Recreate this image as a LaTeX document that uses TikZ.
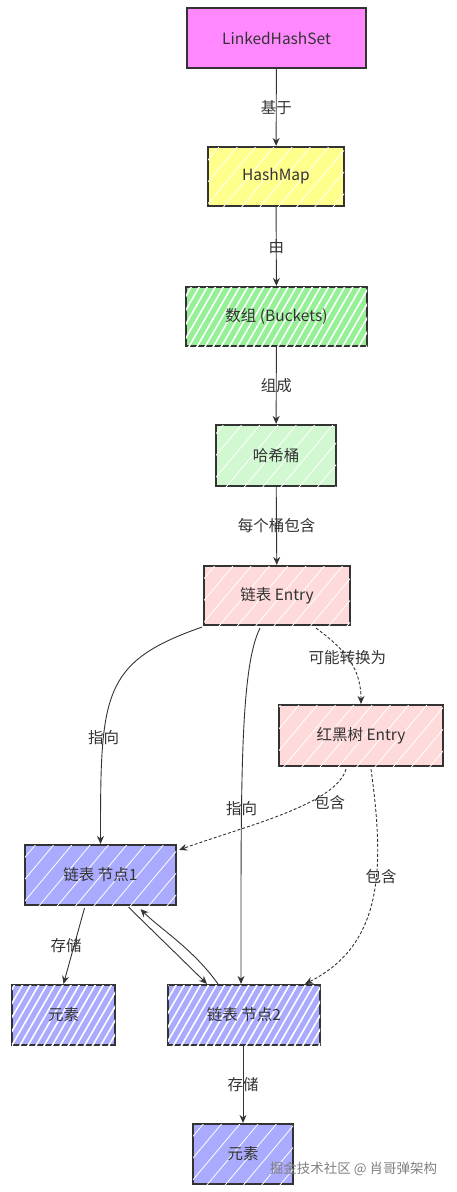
\documentclass[tikz,border=0pt]{standalone}
\usepackage{fontspec}
\setmainfont{Noto Sans CJK SC}
\usetikzlibrary{arrows.meta,patterns.meta}
\definecolor{cLHS}{HTML}{FF88FF}
\definecolor{cHM}{HTML}{FFFF8C}
\definecolor{cBK}{HTML}{96F096}
\definecolor{cHT}{HTML}{D2F8D2}
\definecolor{cEN}{HTML}{FFDADA}
\definecolor{cND}{HTML}{AAAAFF}
\definecolor{ink}{HTML}{333333}
\begin{document}
\begin{tikzpicture}[x=1pt,y=-1pt,
  box/.style={draw=ink, line width=2.2pt, inner sep=0pt, text=ink,
    font=\fontsize{15.5}{18}\selectfont},
  hatch/.style={postaction={pattern={Lines[angle=60,distance=7pt,line width=1.6pt]},pattern color=white}},
  softhatch/.style={postaction={pattern={Lines[angle=50,distance=14pt,line width=0.8pt]},pattern color=white}},
  lbl/.style={font=\fontsize{15.5}{18}\selectfont, text=ink, inner sep=1pt},
  arr/.style={-{Stealth[length=8pt,width=7pt]}, draw=ink, line width=0.9pt},
  dsh/.style={arr, dash pattern=on 3pt off 2pt}]
\useasboundingbox (0,0) rectangle (456,1192);
% nodes
\node[box, fill=cLHS, minimum width=179pt, minimum height=60pt] (lhs) at (276.5,38) {LinkedHashSet};
\node[box, fill=cHM, softhatch, minimum width=136pt, minimum height=59pt] (hm) at (276,176.5) {HashMap};
\node[box, fill=cBK, hatch, minimum width=181pt, minimum height=59pt] (bk) at (276.5,316.5) {数组 (Buckets)};
\node[box, fill=cHT, softhatch, minimum width=120pt, minimum height=61pt] (ht) at (276,455.5) {哈希桶};
\node[box, fill=cEN, softhatch, minimum width=146pt, minimum height=59pt] (en) at (277,595.5) {链表 Entry};
\node[box, fill=cEN, softhatch, minimum width=164pt, minimum height=61pt] (rb) at (361,735.5) {红黑树 Entry};
\node[box, fill=cND, softhatch, minimum width=151pt, minimum height=60pt] (n1) at (100.5,875) {链表 节点1};
\node[box, fill=cND, hatch, minimum width=103pt, minimum height=60pt] (e1) at (63.5,1015) {元素};
\node[box, fill=cND, hatch, minimum width=152pt, minimum height=60pt] (n2) at (244,1015) {链表 节点2};
\node[box, fill=cND, softhatch, minimum width=100pt, minimum height=60pt] (e2) at (243,1154) {元素};
% connectors
\draw[arr] (lhs) -- node[lbl]{基于} (hm);
\draw[arr] (hm) -- node[lbl]{由} (bk);
\draw[arr] (bk) -- node[lbl]{组成} (ht);
\draw[arr] (ht) -- node[lbl]{每个桶包含} (en);
\draw[arr] ([xshift=-1pt,yshift=-1pt]en.south west) .. controls +(-100,35) and +(0,-150) .. (n1.north)
  node[lbl, pos=0.7]{指向};
\draw[arr] ([xshift=-17pt,yshift=-2pt]en.south) .. controls +(-20,40) and +(0,-200) .. ([xshift=-3pt]n2.north)
  node[lbl, pos=0.66]{指向};
\draw[dsh] ([xshift=39pt,yshift=-2pt]en.south) .. controls +(30,22) and +(0,-35) .. (rb.north)
  node[lbl, pos=0.45]{可能转换为};
\draw[dsh] ([xshift=-15pt,yshift=-2pt]rb.south) .. controls +(-10,35) and +(70,-25) .. ([xshift=2pt,yshift=-6pt]n1.north east)
  node[lbl, pos=0.36, xshift=20pt]{包含};
\draw[dsh] ([xshift=10pt,yshift=-2pt]rb.south) .. controls +(13,95) and +(80,-40) .. ([xshift=61pt]n2.north)
  node[lbl, pos=0.41, xshift=5pt]{包含};
\draw[arr] ([xshift=-16pt,yshift=-2pt]n1.south) -- node[lbl, xshift=-8pt]{存储} (e1.north);
\draw[arr] ([xshift=28pt,yshift=-1pt]n1.south) -- ([xshift=-37pt]n2.north);
\draw[arr] ([xshift=-26pt]n2.north) .. controls +(-25,-35) and +(20,20) .. ([xshift=40pt,yshift=-3pt]n1.south);
\draw[arr] ([xshift=-1pt]n2.south) -- node[lbl]{存储} (e2.north);
% watermark
\node[font=\fontsize{13.5}{16}\selectfont, text=black!50, inner sep=0pt] (wm) at (353.5,1169) {掘金技术社区 @ 肖哥弹架构};
\end{tikzpicture}
\end{document}
